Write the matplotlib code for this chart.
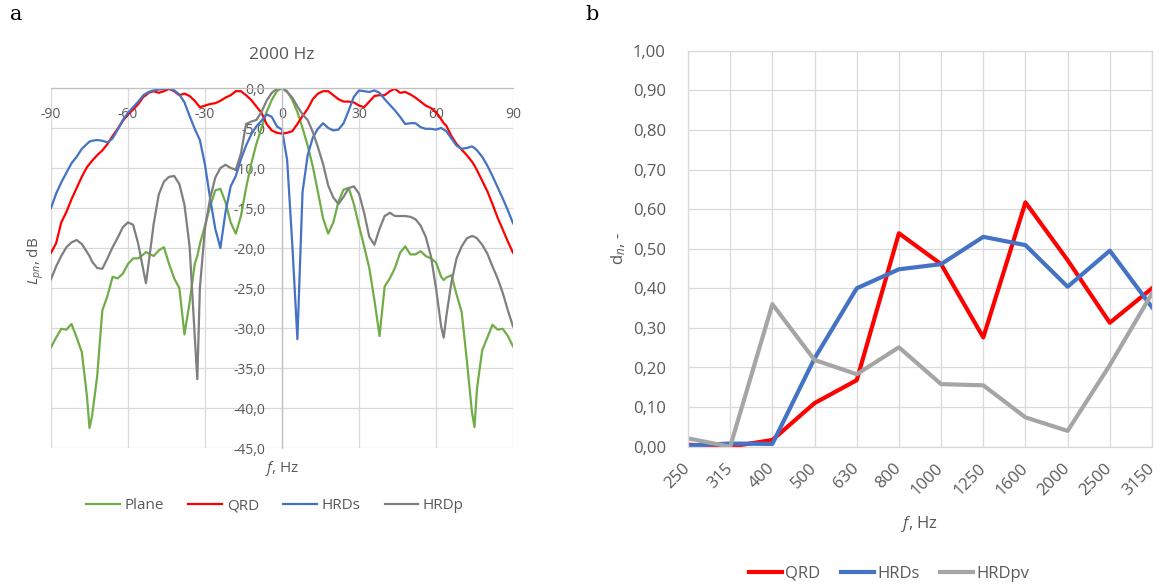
import matplotlib
matplotlib.use("Agg")
import matplotlib.pyplot as plt
from matplotlib.ticker import FuncFormatter

plt.rcParams['font.family'] = ['Open Sans', 'DejaVu Sans']
plt.rcParams['axes.unicode_minus'] = False
plt.rcParams['mathtext.fontset'] = 'custom'
plt.rcParams['mathtext.rm'] = 'Open Sans'
plt.rcParams['mathtext.it'] = 'Open Sans:italic'

# --- panel a: directivity at 2000 Hz ---
angles = [-90, -88, -86, -84, -82, -80, -78, -76, -75, -74, -72, -70, -68, -66, -64, -62,
          -60, -58, -56, -54, -53, -52, -50, -48, -46, -44, -42, -40, -38, -36, -34, -33,
          -32, -30, -28, -26, -24, -22, -20, -18, -16, -14, -12, -10, -8, -6, -4, -2,
          0, 2, 4, 6, 8, 10, 12, 14, 16, 18, 20, 22, 24, 26, 28, 30,
          32, 34, 36, 38, 40, 42, 44, 46, 48, 50, 52, 54, 56, 58, 60, 62,
          63, 64, 66, 68, 70, 72, 74, 75, 76, 78, 80, 82, 84, 86, 88, 90]

plane = [-32.4, -31.2, -30.1, -30.2, -29.5, -31.2, -33.0, -38.5, -42.5, -41.0, -36.0, -27.8,
         -26.0, -23.6, -23.8, -23.2, -22.0, -21.3, -21.3, -20.8, -20.5, -20.7, -21.0, -20.3,
         -19.9, -22.0, -23.8, -25.0, -30.8, -26.8, -22.0, -21.0, -19.5, -17.2, -14.8, -12.8,
         -12.6, -14.3, -16.8, -18.2, -16.0, -12.5, -9.5, -7.0, -5.0, -3.0, -1.5, -0.4,
         0.0, -0.4, -1.5, -3.0, -5.0, -7.2, -9.8, -13.0, -16.3, -18.2, -16.8, -14.2,
         -12.7, -12.5, -14.5, -17.2, -19.8, -22.5, -26.5, -31.0, -24.8, -23.8, -22.5, -20.6,
         -19.8, -20.8, -20.8, -20.4, -21.0, -21.3, -21.8, -23.6, -24.0, -23.7, -23.4, -25.8,
         -28.0, -34.0, -40.5, -42.4, -37.5, -32.8, -31.2, -29.6, -30.2, -30.1, -31.0, -32.3]

qrd_a = [-20.6, -19.4, -16.8, -15.5, -13.9, -12.5, -11.1, -9.9, -9.5, -9.1, -8.4, -7.8,
         -7.0, -6.0, -5.1, -4.1, -3.3, -2.7, -2.0, -1.1, -0.9, -0.6, -0.4, -0.6,
         -0.4, -0.1, -0.4, -0.9, -0.7, -1.0, -1.6, -2.0, -2.4, -2.2, -2.0, -1.9,
         -1.6, -1.2, -0.9, -0.4, -0.4, -0.9, -1.5, -2.3, -3.1, -4.5, -5.3, -5.6,
         -5.7, -5.6, -5.4, -4.5, -3.5, -2.6, -1.4, -0.7, -0.4, -0.4, -0.9, -1.4,
         -1.7, -1.7, -1.8, -2.2, -2.4, -1.7, -1.0, -0.9, -0.9, -0.4, -0.1, -0.6,
         -0.5, -0.8, -1.2, -1.7, -2.2, -2.5, -3.0, -3.9, -4.4, -4.7, -6.0, -7.0,
         -7.7, -8.4, -9.2, -9.7, -10.3, -11.6, -12.9, -14.5, -16.2, -17.7, -19.2, -20.6]

hrds_a = [-15.0, -13.2, -11.8, -10.6, -9.4, -8.6, -7.6, -7.0, -6.7, -6.6, -6.5, -6.6,
          -6.8, -6.3, -5.2, -4.0, -3.1, -2.4, -1.7, -0.9, -0.7, -0.5, -0.3, -0.2,
          -0.1, 0.0, -0.3, -0.8, -1.8, -3.5, -5.1, -5.8, -6.5, -9.6, -13.8, -17.6,
          -20.0, -15.5, -12.3, -11.0, -8.9, -7.2, -5.8, -4.8, -4.1, -3.3, -3.6, -4.8,
          -5.2, -9.0, -19.5, -31.4, -13.0, -8.4, -6.2, -5.1, -4.4, -5.0, -5.3, -5.2,
          -4.4, -2.8, -1.1, -0.3, -0.4, -0.5, -0.3, -0.6, -1.4, -2.1, -2.8, -3.6,
          -4.5, -4.4, -4.4, -4.9, -5.1, -5.1, -5.2, -5.0, -5.2, -5.4, -6.3, -7.2,
          -7.6, -7.5, -7.3, -7.5, -7.8, -8.6, -9.7, -11.0, -12.4, -13.8, -15.3, -16.9]

hrdp_a = [-23.9, -22.3, -21.0, -19.9, -19.3, -19.0, -19.5, -20.5, -21.0, -21.7, -22.5, -22.6,
          -21.3, -19.9, -18.7, -17.4, -16.8, -17.1, -19.5, -22.8, -24.4, -22.0, -17.0, -13.3,
          -11.7, -11.1, -11.0, -12.0, -14.6, -19.8, -31.0, -36.4, -25.0, -17.5, -13.8, -11.2,
          -10.0, -9.6, -10.0, -10.2, -8.2, -4.5, -4.2, -4.0, -3.0, -1.6, -0.6, -0.1,
          0.0, -0.5, -1.2, -2.3, -3.3, -4.0, -5.5, -7.4, -9.5, -12.2, -13.7, -14.5,
          -13.6, -12.5, -12.3, -13.2, -15.6, -18.6, -19.6, -17.6, -16.0, -15.6, -16.0, -16.0,
          -16.0, -16.1, -16.4, -17.2, -18.6, -21.0, -25.0, -29.8, -31.2, -28.6, -24.3, -21.3,
          -19.8, -18.8, -18.5, -18.6, -18.8, -19.6, -20.7, -22.3, -23.8, -25.6, -27.8, -29.8]

# --- panel b: diffusion coefficient ---
freqs = ['250', '315', '400', '500', '630', '800', '1000', '1250', '1600', '2000', '2500', '3150']
qrd_b = [0.005, 0.000, 0.017, 0.110, 0.168, 0.539, 0.461, 0.276, 0.617, 0.471, 0.313, 0.400]
hrds_b = [0.003, 0.008, 0.007, 0.223, 0.400, 0.448, 0.461, 0.530, 0.509, 0.404, 0.495, 0.352]
hrdpv_b = [0.021, 0.000, 0.360, 0.219, 0.183, 0.251, 0.158, 0.155, 0.074, 0.040, 0.206, 0.387]

txt = '#595959'
grid = '#D9D9D9'

fig = plt.figure(figsize=(11.6, 5.86), dpi=100)

# ---------------- panel a ----------------
ax1 = fig.add_axes([51 / 1160, 1 - 448 / 586, 462 / 1160, 360 / 586])
ax1.plot(angles, plane, color='#70AD47', lw=1.6, label='Plane')
ax1.plot(angles, qrd_a, color='#FF0000', lw=1.6, label='QRD')
ax1.plot(angles, hrds_a, color='#4472C4', lw=1.6, label='HRDs')
ax1.plot(angles, hrdp_a, color='#7F7F7F', lw=1.6, label='HRDp')
ax1.set_xlim(-90, 90)
ax1.set_ylim(-45, 0)
ax1.set_xticks(range(-90, 91, 30))
ax1.set_yticks(range(-45, 1, 5))
ax1.yaxis.set_major_formatter(FuncFormatter(lambda v, p: f"{v:.1f}".replace('.', ',')))
ax1.grid(True, color=grid, lw=0.9)
ax1.set_axisbelow(True)
for gl in ax1.get_xgridlines() + ax1.get_ygridlines():
    gl.set_clip_on(False)
ax1.spines['top'].set_visible(False)
ax1.spines['right'].set_visible(False)
ax1.spines['left'].set_position(('data', 0))
ax1.spines['bottom'].set_position(('data', 0))
for s in ('left', 'bottom'):
    ax1.spines[s].set_color('#BFBFBF')
    ax1.spines[s].set_linewidth(0.9)
ax1.tick_params(axis='x', length=0, pad=14, labelsize=10, labelcolor=txt)
ax1.tick_params(axis='y', length=0, pad=12, labelsize=10, labelcolor=txt)
ax1.set_xlabel('$f$, Hz', fontsize=11, color=txt)
ax1.xaxis.set_label_coords(0.5, -0.03)
ax1.xaxis.label.set_va('top')
ax1.set_ylabel('$L_{pn}$, dB', fontsize=11, color=txt)
ax1.yaxis.set_label_coords(-0.01, 0.52)
ax1.text(0.5, 1.092, '2000 Hz', transform=ax1.transAxes, ha='center', va='center',
         fontsize=12.5, color=txt)
ax1.legend(loc='center', bbox_to_anchor=(0.485, -0.161), ncol=4, frameon=False,
           fontsize=11, labelcolor=txt, handlelength=2.2, handletextpad=0.3, columnspacing=1.6)

# ---------------- panel b ----------------
ax2 = fig.add_axes([688 / 1160, 1 - 446.7 / 586, 464 / 1160, 396 / 586])
xb = range(len(freqs))
ax2.plot(xb, qrd_b, color='#FF0000', lw=3, label='QRD')
ax2.plot(xb, hrds_b, color='#4472C4', lw=3, label='HRDs')
ax2.plot(xb, hrdpv_b, color='#A5A5A5', lw=3, label='HRDpv')
ax2.set_xlim(0, len(freqs) - 1)
ax2.set_ylim(0, 1)
ax2.set_xticks(list(xb))
ax2.set_xticklabels(freqs, rotation=45, ha='right', va='center', rotation_mode='anchor')
ax2.set_yticks([i / 10 for i in range(11)])
ax2.yaxis.set_major_formatter(FuncFormatter(lambda v, p: f"{v:.2f}".replace('.', ',')))
ax2.grid(True, color=grid, lw=0.9)
ax2.set_axisbelow(True)
for s in ax2.spines.values():
    s.set_color(grid)
    s.set_linewidth(0.9)
ax2.tick_params(axis='x', length=0, pad=14, labelsize=12, labelcolor=txt)
ax2.tick_params(axis='y', length=0, pad=16, labelsize=12, labelcolor=txt)
ax2.set_xlabel('$f$, Hz', fontsize=12, color=txt)
ax2.xaxis.set_label_coords(0.5, -0.17)
ax2.xaxis.label.set_va('top')
ax2.set_ylabel(r'd$_{n}$, -', fontsize=12, color=txt)
ax2.yaxis.set_label_coords(-0.13, 0.5)
ax2.legend(loc='center', bbox_to_anchor=(0.433, -0.321), ncol=3, frameon=False,
           fontsize=12, labelcolor=txt, handlelength=2.0, handletextpad=0.2, columnspacing=1.2)

fig.text(10 / 1160, 1 - 15 / 586, 'a', family='DejaVu Serif', fontsize=15, va='center')
fig.text(585 / 1160, 1 - 14 / 586, 'b', family='DejaVu Serif', fontsize=15, va='center')

fig.savefig('out.png', dpi=100)
